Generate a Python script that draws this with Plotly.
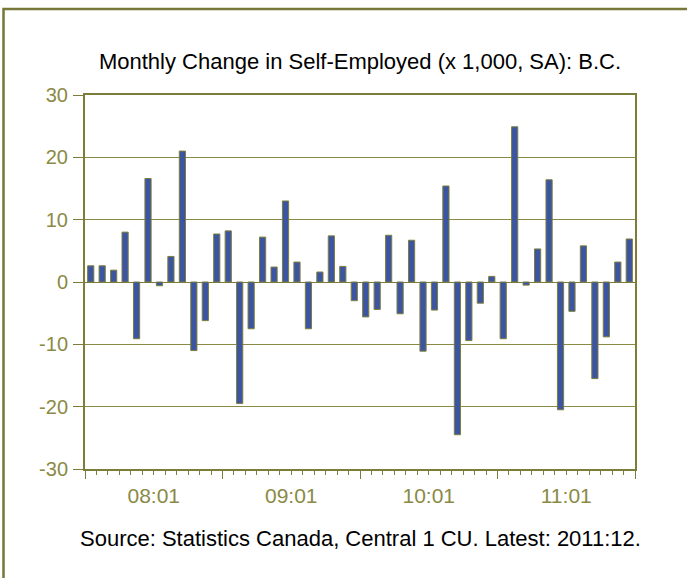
import plotly.graph_objects as go

# ---- data ----
months = [f"{yy:02d}:{mm:02d}" for yy in range(8, 12) for mm in range(1, 13)]
changes = [2.6, 2.6, 1.9, 8.0, -9.1, 16.6, -0.6, 4.1, 21.0, -11.0, -6.2, 7.7,
           8.2, -19.5, -7.5, 7.2, 2.4, 13.0, 3.2, -7.5, 1.6, 7.4, 2.5, -3.0,
           -5.6, -4.4, 7.5, -5.1, 6.7, -11.1, -4.5, 15.4, -24.5, -9.4, -3.4, 0.9,
           -9.1, 24.9, -0.5, 5.3, 16.4, -20.5, -4.7, 5.8, -15.5, -8.8, 3.2, 6.9]
year_labels = ["08:01", "09:01", "10:01", "11:01"]
y_ticks = [-30, -20, -10, 0, 10, 20, 30]
y_tick_text = ["-30", "-20", "-10", "0", "10", "20", "30"]

title_text = "Monthly Change in Self-Employed (x 1,000, SA): B.C."
source_text = "Source: Statistics Canada, Central 1 CU. Latest: 2011:12."

# ---- derived positions ----
idx = list(range(len(months)))
first_idx = [months.index(l) for l in year_labels]
label_pos = [i + 5.5 for i in first_idx]
year_bounds = [i - 0.5 for i in first_idx] + [len(months) - 0.5]

OLIVE = "#7d7d3a"
OLIVE_TXT = "#8a8a45"
BAR = "#3b55a3"
FONT = "Liberation Sans, Arial, sans-serif"

fig = go.Figure()
fig.add_trace(go.Bar(
    x=idx, y=changes, hovertext=months, hoverinfo="text+y",
    marker=dict(color=BAR, line=dict(color=OLIVE, width=1)),
    showlegend=False,
))
fig.add_trace(go.Scatter(
    x=idx, y=changes, xaxis="x2", mode="none", hoverinfo="skip", showlegend=False,
))

W, H = 687, 578
L, R, T, B = 85, 52, 95, 109
pw, ph = W - L - R, H - T - B

fig.update_layout(
    width=W, height=H, autosize=False,
    margin=dict(l=L, r=R, t=T, b=B),
    paper_bgcolor="white", plot_bgcolor="white",
    bargap=0.46,
    font=dict(family=FONT, color=OLIVE_TXT),
    title=dict(text=title_text, x=0.5, xref="paper", xanchor="center",
               y=1 - 61 / H, yref="container", yanchor="middle",
               font=dict(family=FONT, size=22, color="black")),
    xaxis=dict(
        range=[-0.5, len(months) - 0.5],
        tickmode="array", tickvals=year_bounds, ticktext=["" for _ in year_bounds],
        ticks="outside", ticklen=8, tickwidth=1, tickcolor=OLIVE,
        minor=dict(ticks="outside", ticklen=4, tickwidth=1, tickcolor=OLIVE,
                   tickmode="linear", tick0=-0.5, dtick=1),
        showline=True, linecolor=OLIVE, linewidth=2, mirror=True,
        showgrid=False, zeroline=False, fixedrange=True,
    ),
    xaxis2=dict(
        overlaying="x", matches="x", anchor="y", side="bottom",
        tickmode="array", tickvals=label_pos, ticktext=year_labels,
        ticks="", showline=False, showgrid=False, zeroline=False,
        tickfont=dict(family=FONT, size=21, color=OLIVE_TXT),
        ticklabelstandoff=12,
    ),
    yaxis=dict(
        range=[-30, 30], tickmode="array", tickvals=y_ticks, ticktext=y_tick_text,
        ticks="outside", ticklen=10, tickwidth=1, tickcolor=OLIVE,
        tickfont=dict(family=FONT, size=20, color=OLIVE_TXT),
        ticklabelstandoff=1,
        showline=True, linecolor=OLIVE, linewidth=2, mirror=True,
        showgrid=True, gridcolor="#8a8a45", gridwidth=1,
        zeroline=True, zerolinecolor=OLIVE, zerolinewidth=1, fixedrange=True,
    ),
    annotations=[dict(
        text=source_text, xref="paper", yref="paper", x=0.5, y=-(538 - (T + ph)) / ph,
        xanchor="center", yanchor="middle", showarrow=False,
        font=dict(family=FONT, size=22, color="black"),
    )],
    shapes=[dict(
        type="rect", xref="paper", yref="paper",
        x0=(3.5 - L) / pw, x1=1.3, y0=-0.6, y1=(H - B - 9) / ph,
        line=dict(color="#77773a", width=2.5), fillcolor="rgba(0,0,0,0)", layer="below",
    )],
)

fig.write_html("out.html", config={"displayModeBar": False},
               post_script="document.body.style.margin='0';")
